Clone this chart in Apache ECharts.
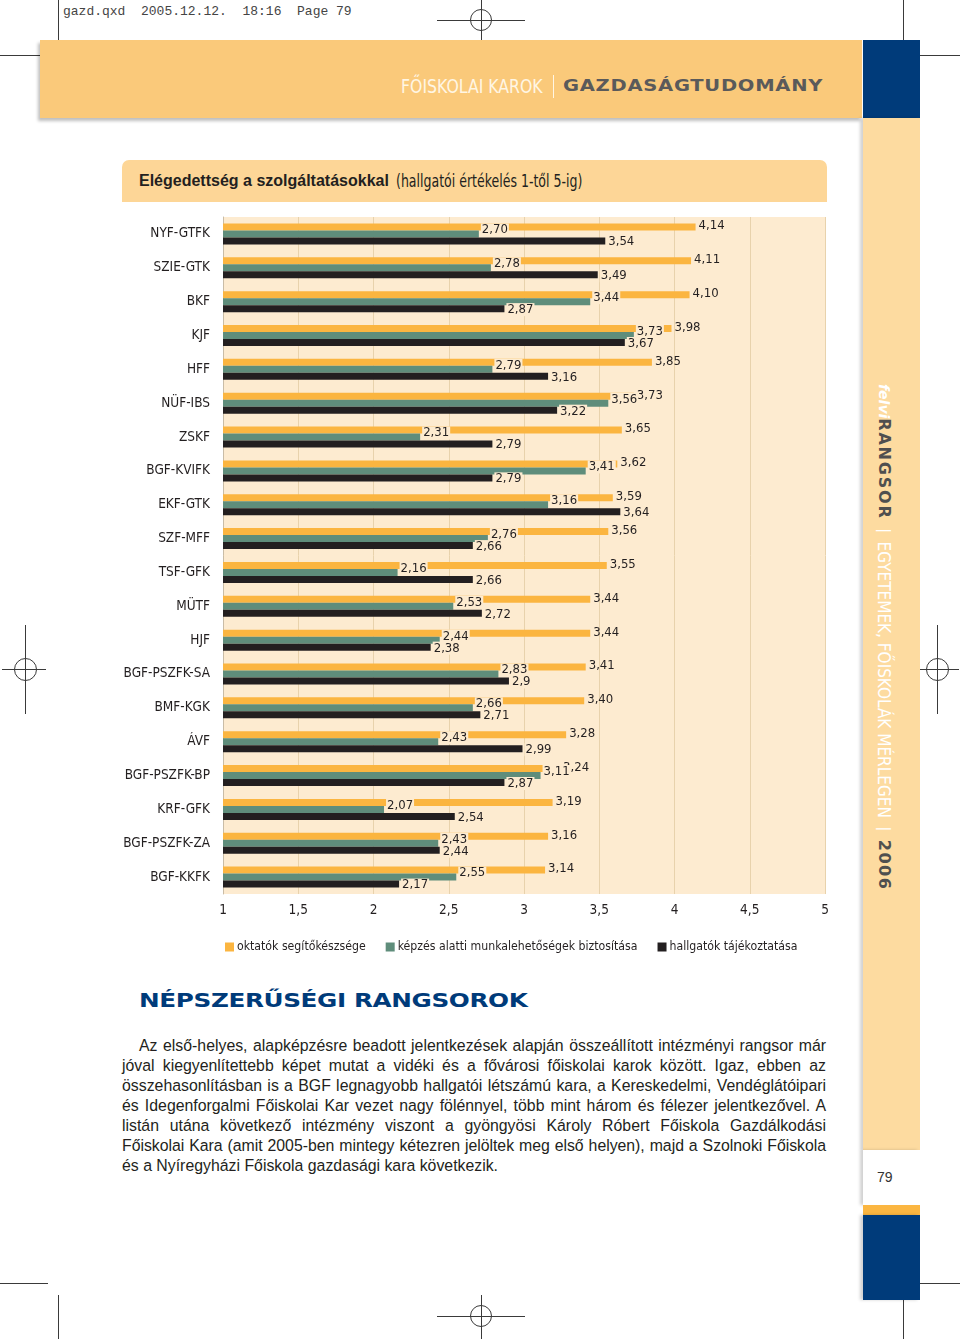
<!DOCTYPE html>
<html>
<head>
<meta charset="utf-8">
<script src="https://cdn.jsdelivr.net/npm/echarts@6/dist/echarts.min.js"></script>
<style>
  html, body { margin:0; padding:0; background:#fff; }
  #page { position:relative; width:960px; height:1339px; overflow:hidden; background:#fff; font-family:"Liberation Sans", Arial, sans-serif; }
  .abs { position:absolute; }
  .ln { position:absolute; background:#3a3a3a; }
  .circ { position:absolute; border:1px solid #3a3a3a; border-radius:50%; box-sizing:border-box; }
  #chart { position:absolute; left:0; top:0; width:960px; height:1339px; z-index:5; }
  .narrow { font-family:"Liberation Sans Narrow","DejaVu Sans Condensed","Roboto Condensed",sans-serif; }
  .pl { width:704px; height:20px; text-align:justify; text-align-last:justify; white-space:nowrap; }
</style>
</head>
<body>
<div id="page">
  <!-- crop marks and slug -->
  <div class="abs" style="left:63px;top:4px;font-family:'Liberation Mono','DejaVu Sans Mono',monospace;font-size:13px;color:#444;white-space:pre;">gazd.qxd  2005.12.12.  18:16  Page 79</div>
  <div class="ln" style="left:58px;top:0;width:1px;height:44px;"></div>
  <div class="ln" style="left:0;top:55px;width:40px;height:1px;"></div>
  <div class="ln" style="left:903px;top:0;width:1px;height:44px;"></div>
  <div class="ln" style="left:920px;top:55px;width:40px;height:1px;"></div>
  <div class="ln" style="left:437px;top:20px;width:88px;height:1px;"></div>
  <div class="ln" style="left:481px;top:0;width:1px;height:40px;"></div>
  <div class="circ" style="left:470px;top:9px;width:22px;height:22px;"></div>

  <div class="ln" style="left:2px;top:669px;width:44px;height:1px;"></div>
  <div class="ln" style="left:25px;top:625px;width:1px;height:89px;"></div>
  <div class="circ" style="left:14px;top:658px;width:23px;height:23px;"></div>
  <div class="ln" style="left:915px;top:669px;width:44px;height:1px;"></div>
  <div class="ln" style="left:937px;top:625px;width:1px;height:89px;"></div>
  <div class="circ" style="left:926px;top:658px;width:23px;height:23px;"></div>

  <div class="ln" style="left:58px;top:1295px;width:1px;height:44px;"></div>
  <div class="ln" style="left:0;top:1283px;width:48px;height:1px;"></div>
  <div class="ln" style="left:903px;top:1295px;width:1px;height:44px;"></div>
  <div class="ln" style="left:920px;top:1283px;width:40px;height:1px;"></div>
  <div class="ln" style="left:437px;top:1316px;width:88px;height:1px;"></div>
  <div class="ln" style="left:481px;top:1295px;width:1px;height:44px;"></div>
  <div class="circ" style="left:470px;top:1305px;width:22px;height:22px;"></div>

  <!-- header band -->
  <div class="abs" style="left:40px;top:40px;width:822px;height:78px;background:#FAC97A;box-shadow:-2px 3px 3px rgba(0,0,0,0.25);"></div>
  <div class="abs narrow" style="left:401px;top:75px;font-size:19px;color:#FFF6E4;white-space:nowrap;transform-origin:left top;transform:scaleX(0.92);">FŐISKOLAI KAROK</div>
  <div class="abs" style="left:553px;top:75px;width:1px;height:23px;background:#FFF6E4;"></div>
  <div class="abs" style="left:563px;top:76px;font-family:'DejaVu Sans',sans-serif;font-weight:bold;font-size:16px;color:#5A5A5A;white-space:nowrap;transform-origin:left top;transform:scaleX(1.22);letter-spacing:0.6px;">GAZDASÁGTUDOMÁNY</div>

  <!-- right strip -->
  <div class="abs" style="left:863px;top:40px;width:57px;height:78px;background:#003B7A;"></div>
  <div class="abs" style="left:863px;top:118px;width:57px;height:1032px;background:#FDDBA0;box-shadow:-3px 0 3px rgba(0,0,0,0.18);"></div>
  <div class="abs" style="left:863px;top:1150px;width:57px;height:55px;background:#fff;box-shadow:-3px 0 3px rgba(0,0,0,0.18);"></div>
  <div class="abs" style="left:877px;top:1169px;font-size:14px;color:#333;">79</div>
  <div class="abs" style="left:863px;top:1205px;width:57px;height:10px;background:#FBB641;"></div>
  <div class="abs" style="left:863px;top:1215px;width:57px;height:85px;background:#003B7A;box-shadow:-3px 0 3px rgba(0,0,0,0.18);"></div>
  <div class="abs" style="left:874px;top:384px;writing-mode:vertical-rl;font-size:16px;white-space:nowrap;line-height:20px;">
    <span style="color:#fff;font-weight:bold;font-style:italic;font-family:'DejaVu Sans',sans-serif;font-size:14px;">felvi</span><span style="color:#4F4F4F;font-weight:bold;font-family:'DejaVu Sans',sans-serif;font-size:16px;letter-spacing:1.8px;">RANGSOR</span><span style="color:#fff;">&nbsp;&nbsp;|&nbsp;&nbsp;</span><span class="narrow" style="color:#fff;font-size:17px;">EGYETEMEK, FŐISKOLÁK MÉRLEGEN</span><span style="color:#fff;">&nbsp;&nbsp;|&nbsp;&nbsp;</span><span style="color:#4F4F4F;font-weight:bold;font-family:'DejaVu Sans',sans-serif;font-size:16px;letter-spacing:1.5px;">2006</span>
  </div>

  <!-- chart title box -->
  <div class="abs" style="left:122px;top:160px;width:705px;height:42px;background:#FDD697;border-radius:7px 7px 0 0;"></div>
  <div class="abs" style="left:139px;top:172px;white-space:nowrap;color:#231F20;font-weight:bold;font-size:16px;">Elégedettség a szolgáltatásokkal</div>
  <div class="abs narrow" style="left:396px;top:171px;white-space:nowrap;color:#231F20;font-size:17px;transform-origin:left top;transform:scaleX(0.82);">(hallgatói értékelés 1-től 5-ig)</div>

  <!-- section heading and text -->
  <div class="abs" style="left:139px;top:989px;font-family:'DejaVu Sans',sans-serif;font-weight:bold;font-size:19px;color:#003B7A;white-space:nowrap;transform-origin:left top;transform:scaleX(1.3);letter-spacing:-0.3px;">NÉPSZERŰSÉGI RANGSOROK</div>
  <div class="abs" style="left:122px;top:1036px;font-size:15.85px;line-height:20px;color:#231F20;">
    <div class="pl" style="padding-left:17px;width:687px;">Az első-helyes, alapképzésre beadott jelentkezések alapján összeállított intézményi rangsor már</div>
    <div class="pl">jóval kiegyenlítettebb képet mutat a vidéki és a fővárosi főiskolai karok között. Igaz, ebben az</div>
    <div class="pl">összehasonlításban is a BGF legnagyobb hallgatói létszámú kara, a Kereskedelmi, Vendéglátóipari</div>
    <div class="pl">és Idegenforgalmi Főiskolai Kar vezet nagy fölénnyel, több mint három és félezer jelentkezővel. A</div>
    <div class="pl">listán utána következő intézmény viszont a gyöngyösi Károly Róbert Főiskola Gazdálkodási</div>
    <div class="pl" style="letter-spacing:-0.03px;">Főiskolai Kara (amit 2005-ben mintegy kétezren jelöltek meg első helyen), majd a Szolnoki Főiskola</div>
    <div style="height:20px;white-space:nowrap;">és a Nyíregyházi Főiskola gazdasági kara következik.</div>
  </div>

  <div id="chart"></div>
</div>
<script>
// ---- data ----
const categories = ['NYF-GTFK','SZIE-GTK','BKF','KJF','HFF','NÜF-IBS','ZSKF','BGF-KVIFK','EKF-GTK','SZF-MFF','TSF-GFK','MÜTF','HJF','BGF-PSZFK-SA','BMF-KGK','ÁVF','BGF-PSZFK-BP','KRF-GFK','BGF-PSZFK-ZA','BGF-KKFK'];
const seriesNames = ['oktatók segítőkészsége','képzés alatti munkalehetőségek biztosítása','hallgatók tájékoztatása'];
const oktatok   = ['4.14','4.11','4.10','3.98','3.85','3.73','3.65','3.62','3.59','3.56','3.55','3.44','3.44','3.41','3.40','3.28','3.24','3.19','3.16','3.14'];
const kepzes    = ['2.70','2.78','3.44','3.73','2.79','3.56','2.31','3.41','3.16','2.76','2.16','2.53','2.44','2.83','2.66','2.43','3.11','2.07','2.43','2.55'];
const hallgatok = ['3.54','3.49','2.87','3.67','3.16','3.22','2.79','2.79','3.64','2.66','2.66','2.72','2.38','2.9','2.71','2.99','2.87','2.54','2.44','2.17'];
const xMin = 1, xMax = 5, xStep = 0.5;

const FONT = '"Liberation Sans Narrow","DejaVu Sans Condensed","Roboto Condensed",sans-serif';
const CREAM = '#FDEBD0';
const TXT = '#231F20';
const colors = ['#FBB540','#5F8D7B','#231F20'];
const fmt = p => String(p.data).replace('.', ',');

function labelCfg(offY, bg) {
  return { show:true, position:'right', distance:2, offset:[0, offY], formatter:fmt,
           fontFamily:FONT, fontSize:13, color:TXT, lineHeight:13,
           backgroundColor: bg ? CREAM : 'transparent', padding:[0,1,0,1] };
}

const chart = echarts.init(document.getElementById('chart'), null, {renderer:'canvas'});
chart.setOption({
  animation:false,
  color:colors,
  textStyle:{ fontFamily:FONT },
  grid:{ left:223, right:135, top:217, bottom:445, show:true, backgroundColor:CREAM, borderWidth:0, containLabel:false },
  xAxis:{
    type:'value', min:xMin, max:xMax, interval:xStep,
    axisLine:{show:false}, axisTick:{show:false},
    splitLine:{ show:true, lineStyle:{ color:'#E8D2AC', width:1 } },
    axisLabel:{ formatter:v => String(v).replace('.', ','), fontFamily:FONT, fontSize:13.5, color:TXT, margin:9 }
  },
  yAxis:{
    type:'category', data:categories, inverse:true,
    axisTick:{show:false},
    axisLine:{ show:true, lineStyle:{ color:'#C9BCA6', width:1 } },
    axisLabel:{ fontFamily:FONT, fontSize:13.5, color:TXT, margin:13 }
  },
  legend:{
    left:220, top:936, itemWidth:9, itemHeight:9, itemGap:20, icon:'rect',
    data:seriesNames,
    textStyle:{ fontFamily:FONT, fontSize:12.2, color:TXT, padding:[0,0,0,-2] }
  },
  series:[
    { name:seriesNames[0], type:'bar', data:oktatok, barWidth:7, barGap:'0%', label:labelCfg(-1, false) },
    { name:seriesNames[1], type:'bar', data:kepzes, barWidth:7, barGap:'0%', label:labelCfg(-4, true) },
    { name:seriesNames[2], type:'bar', data:hallgatok, barWidth:7, barGap:'0%', label:labelCfg(1, true) }
  ]
});
</script>
</body>
</html>
